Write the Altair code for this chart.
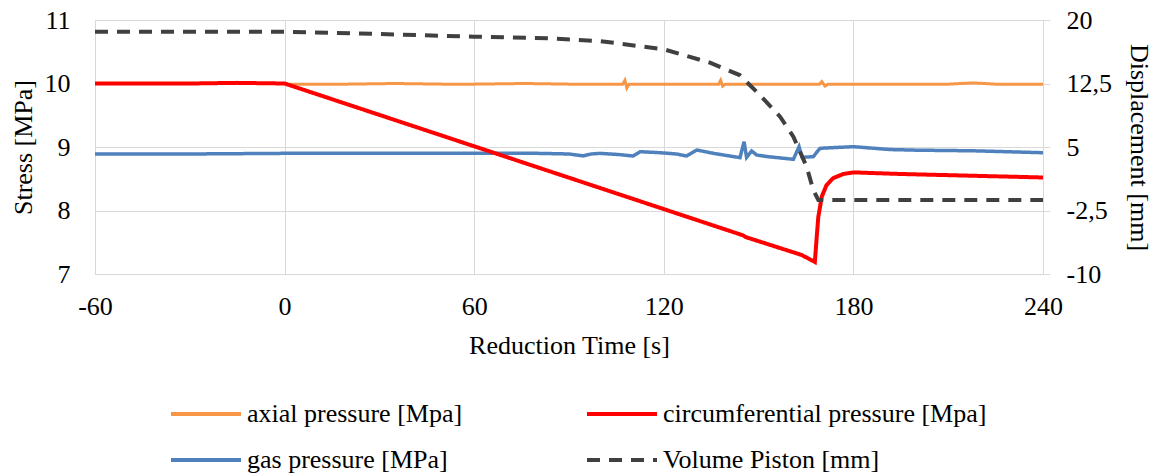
import altair as alt
import pandas as pd

FONT = "Liberation Serif"

series_names = ["axial pressure [Mpa]", "circumferential pressure [Mpa]",
                "gas pressure [MPa]", "Volume Piston [mm]"]
series_colors = ["#F79646", "#FF0000", "#4F81BD", "#404040"]
series_dash = [[1, 0], [1, 0], [1, 0], [13, 9]]

x_ticks = [-60, 0, 60, 120, 180, 240]
left_ticks = [7, 8, 9, 10, 11]
right_ticks = [-10, -2.5, 5, 12.5, 20]

# axial pressure [MPa]
axial_t = [0, 20, 35, 50, 60, 76, 90, 100, 107, 107.7, 108.3, 109, 120, 130, 137.4,
           138, 138.6, 139.5, 150, 160, 169.3, 170, 171, 172, 190, 210, 218, 225, 240]
axial_v = [9.99, 9.99, 10.0, 9.99, 9.99, 10.0, 9.99, 9.99, 9.99, 10.05, 9.93, 9.99, 9.99, 9.99, 9.99,
           10.05, 9.96, 9.99, 9.99, 9.99, 9.99, 10.03, 9.96, 9.99, 9.99, 9.99, 10.01, 9.99, 9.99]

# circumferential pressure [MPa]
circ_t = [-60, -30, -15, 0, 145, 146, 163.6, 167.8, 168.4, 168.9, 170.0, 171.5, 173.6, 176.8,
          180, 195, 240]
circ_v = [10.0, 10.0, 10.01, 10.0, 7.61, 7.58, 7.30, 7.19, 7.59, 7.90, 8.22, 8.40, 8.51, 8.575,
          8.60, 8.575, 8.52]

# gas pressure [MPa]
gas_t = [-60, -30, 0, 30, 60, 80, 90, 94.5, 97, 99.8, 106, 110.3, 112.5, 118.8, 124,
         127.2, 130.4, 135.7, 144.1, 145.4, 146.2, 147.8, 149.4, 152.6, 161, 162.8,
         163.8, 167.3, 169.4, 173.6, 180, 191.6, 200, 218, 240]
gas_v = [8.89, 8.89, 8.90, 8.90, 8.90, 8.90, 8.89, 8.86, 8.89, 8.90, 8.88, 8.858, 8.926, 8.91, 8.89,
         8.858, 8.953, 8.90, 8.832, 9.084, 8.837, 8.937, 8.874, 8.85, 8.806, 9.005,
         8.837, 8.848, 8.979, 8.99, 9.005, 8.96, 8.95, 8.94, 8.91]

# volume piston displacement [mm] (right axis)
vol_t = [-60, -30, 0, 21, 60, 84, 100, 120, 134.6, 144, 150.4, 156.8, 161, 165.2, 167.3, 168.9, 240]
vol_v = [18.62, 18.62, 18.62, 18.43, 18.03, 17.83, 17.5, 16.54, 14.96, 13.5, 11.14, 8.58, 6.22,
         2.67, -0.08, -1.26, -1.26]


def frame(name, ts, vs):
    return pd.DataFrame({"t": ts, "v": vs, "series": [name] * len(ts)})


legend = alt.Legend(
    title=None, orient="none", legendX=98, legendY=381, columns=2, direction="horizontal",
    columnPadding=116, rowPadding=20, symbolType="M-3.5,0H3.5", symbolSize=400,
    symbolStrokeWidth=4, labelFont=FONT, labelFontSize=26, labelColor="black",
    labelOffset=28, labelLimit=0, padding=0,
)
color = alt.Color("series:N", scale=alt.Scale(domain=series_names, range=series_colors),
                  sort=series_names, legend=legend)
dash = alt.StrokeDash("series:N", scale=alt.Scale(domain=series_names, range=series_dash),
                      sort=series_names, legend=legend)

x_enc = alt.X("t:Q", scale=alt.Scale(domain=[-60, 240], nice=False, zero=False),
              axis=alt.Axis(values=x_ticks, title="Reduction Time [s]", grid=True,
                            gridColor="#d9d9d9", domainColor="#d9d9d9", ticks=False,
                            labelExpr="'' + datum.value", labelPadding=19, titlePadding=13,
                            labelFlush=False))

left_axis = alt.Axis(values=left_ticks, title="Stress [MPa]", grid=True, gridColor="#d9d9d9",
                     domainColor="#d9d9d9", ticks=False, labelPadding=25, titlePadding=8)
right_axis = alt.Axis(values=right_ticks, title="Displacement [mm]", orient="right", grid=False,
                      domainColor="#d9d9d9", ticks=True, tickSize=7, tickColor="#d9d9d9",
                      labelExpr="replace('' + datum.value, '.', ',')", labelPadding=16,
                      labelAlign="left", titlePadding=14)

y_left = alt.Y("v:Q", scale=alt.Scale(domain=[7, 11], nice=False, zero=False), axis=left_axis)

gas = alt.Chart(frame(series_names[2], gas_t, gas_v)).mark_line(strokeWidth=3.5).encode(
    x=x_enc, y=y_left, color=color, strokeDash=dash)
axial = alt.Chart(frame(series_names[0], axial_t, axial_v)).mark_line(strokeWidth=3).encode(
    x=x_enc, y=y_left, color=color, strokeDash=dash)
circ = alt.Chart(frame(series_names[1], circ_t, circ_v)).mark_line(strokeWidth=4).encode(
    x=x_enc, y=y_left, color=color, strokeDash=dash)
left = alt.layer(gas, axial, circ)

right = alt.Chart(frame(series_names[3], vol_t, vol_v)).mark_line(strokeWidth=4).encode(
    x=x_enc,
    y=alt.Y("v:Q", scale=alt.Scale(domain=[-10, 20], nice=False, zero=False), axis=right_axis),
    color=color, strokeDash=dash)

chart = alt.layer(left, right).resolve_scale(y="independent").properties(
    width=948, height=254,
    autosize=alt.AutoSizeParams(type="none"),
    padding={"left": 95, "top": 20, "right": 114, "bottom": 201},
    background="white",
).configure_view(strokeWidth=0).configure_axis(
    labelFont=FONT, titleFont=FONT, labelFontSize=26, titleFontSize=26,
    labelColor="black", titleColor="black", titleFontWeight="normal",
)

chart.save("out.html", embed_options={"renderer": "svg", "actions": False})
